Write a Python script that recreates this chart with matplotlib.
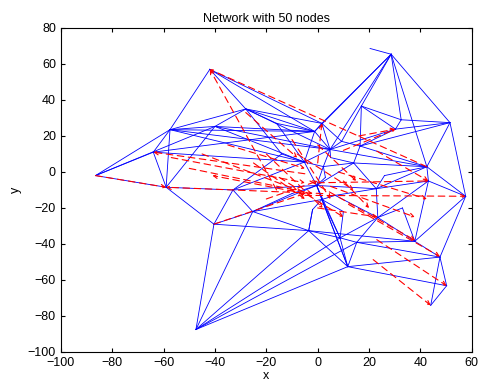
import matplotlib
matplotlib.use('Agg')
import matplotlib.pyplot as plt

plt.rcParams['font.family'] = ['Liberation Sans', 'DejaVu Sans']

# node positions (x, y)
node_x = [-42, -28, -57.5, -40, -64, -86.5, -59, -33, -40.4, -25.3,
          -47.4, 28.6, 20.4, 51.5, 32.5, 17, 30.3, 42.5, 57.6, -1.2,
          1.6, -5.2, 4.8, 14, 2.2, 43.1, 22.8, 23.4, 37.8, 47.6,
          50.2, 44, 11.7, -3.5, 8.7, 15.2, -0.4, 9.3, 16.5, -16,
          1.6, -2, 6.8, -10, 3, 10, -14, 26, 33, 5]
node_y = [57, 35, 23.5, 25.3, 11, -2, -8.5, -10, -29, -22,
          -87.5, 65.4, 68.6, 27.4, 29, 36.6, 23.8, 2.9, -13.5, 22.5,
          27, 5.5, 12.5, 5, 3, -5, -9.3, -25.3, -38.5, -47.3,
          -63.2, -74.1, -52.6, -32.6, -36.6, -39.1, -7.5, 17, 14.4, 27,
          -15.3, -20.9, -13, -12, -3, -22, 10, -2, -20, 8]

# blue links (node index pairs)
edges = [(5, 2), (5, 4), (5, 3), (5, 6), (6, 4), (6, 2), (6, 3), (6, 7), (6, 8),
         (4, 2), (4, 21), (4, 19), (2, 0), (2, 3), (2, 1), (2, 19), (2, 22),
         (2, 21), (0, 1), (0, 20), (0, 19), (12, 11), (11, 20), (11, 19),
         (11, 22), (11, 15), (11, 13), (11, 17), (11, 14), (3, 1), (3, 19),
         (3, 22), (3, 21), (1, 19), (1, 20), (1, 22), (1, 39), (1, 46),
         (39, 19), (39, 21), (7, 8), (7, 9), (7, 21), (7, 36), (7, 46),
         (8, 9), (8, 10), (8, 33), (9, 10), (9, 36), (9, 40), (9, 33),
         (10, 33), (10, 34), (10, 35), (10, 32), (13, 14), (13, 16), (13, 17),
         (13, 18), (13, 38), (14, 16), (14, 15), (15, 16), (15, 38), (16, 38),
         (16, 22), (17, 18), (17, 25), (17, 26), (17, 38), (17, 22), (17, 23),
         (18, 25), (18, 29), (18, 28), (25, 27), (25, 28), (25, 26), (26, 27),
         (26, 23), (26, 36), (27, 28), (27, 34), (27, 35), (27, 42), (28, 29),
         (28, 35), (29, 30), (29, 31), (29, 32), (29, 35), (30, 31), (30, 32),
         (32, 34), (32, 35), (32, 33), (33, 34), (33, 41), (34, 35), (34, 40),
         (19, 20), (19, 21), (19, 22), (20, 22), (21, 22), (21, 24), (22, 24),
         (22, 37), (37, 38), (23, 24), (23, 38), (23, 36), (24, 36), (21, 36),
         (36, 40), (40, 41), (40, 42), (42, 26), (41, 33), (43, 36), (43, 9),
         (44, 24), (44, 36), (45, 34), (45, 40), (46, 21), (47, 26), (47, 17),
         (48, 28), (48, 27), (49, 23), (49, 22), (20, 37), (15, 37),
         (36, 32), (36, 34), (40, 32), (33, 28)]

# red dashed arrows (start x, start y, end x, end y)
arr_x0 = [42.5, -16, -86.5, 2, -5, -5, -40.4, -5, 0, 23, 16, 10, 23, 21.6,
          -20, 0, -15, 10, -25, 0, -57, -50, -28, -10, -3, 5, 12, -20, -35,
          -45, 0, 8, -8]
arr_y0 = [2.9, -10, -2, -12, -1, -12, -29, -13, -6, 11.6, 20, 12, -37.6, -48.7,
          10, 5, -3, -5, 5, 15, 8, 2, 33, 18, -5, -8, -18, -15, 15, 10, -20,
          0, 10]
arr_x1 = [-42, -42, -59, -59, -64, -41, -5, 57.6, 43.1, 43.1, 30.3, 30.3, 50.2,
          44, 2, 1.6, 10, 20, -5, 15, -5, -2, -8, 5, 38, 37.8, 47.6, 0, -5,
          -8, 23.4, 42.5, 14]
arr_y1 = [57, 57, -8.5, -8.5, 11, -2, -12, -13.5, -5, -5, 23.8, 23.8, -63.2,
          -74.1, -20, 27, -25, -20, -15, -5, -6, -12, 8, -15, -38, -25, -47, -5,
          2, -10, -25, -15, -10]

fig = plt.figure(figsize=(4.79, 3.83), dpi=100)
ax = fig.add_axes([0.127, 0.081, 0.858, 0.846])

for i, j in edges:
    ax.plot([node_x[i], node_x[j]], [node_y[i], node_y[j]], color='blue', lw=0.6)

for x0, y0, x1, y1 in zip(arr_x0, arr_y0, arr_x1, arr_y1):
    ax.annotate('', xy=(x1, y1), xytext=(x0, y0),
                arrowprops=dict(arrowstyle='->', color='red', lw=0.8,
                                linestyle=(0, (6, 4)), shrinkA=0, shrinkB=0,
                                mutation_scale=7))

ax.set_xlim(-100, 60)
ax.set_ylim(-100, 80)
ax.set_xticks(range(-100, 61, 20))
ax.set_yticks(range(-100, 81, 20))
ax.tick_params(direction='in', labelsize=9, length=3, top=True, right=True)
ax.set_xlabel('x', fontsize=9, labelpad=1)
ax.set_ylabel('y', fontsize=9)
ax.set_title('Network with 50 nodes', fontsize=9, pad=4)

fig.savefig('out.png', dpi=100)
